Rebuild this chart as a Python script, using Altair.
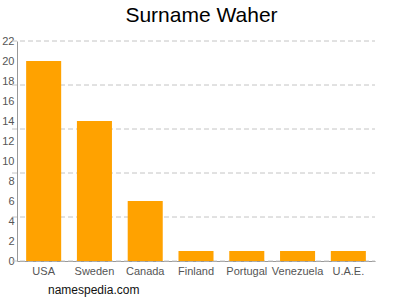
import altair as alt
import pandas as pd

countries = ["USA", "Sweden", "Canada", "Finland", "Portugal", "Venezuela", "U.A.E."]
counts = [20, 14, 6, 1, 1, 1, 1]
y_labels = [0, 2, 4, 6, 8, 10, 12, 14, 16, 18, 20, 22]
grid_values = [0, 4.4, 8.8, 13.2, 17.6, 22]
title_text = ["Surname Waher"]
footer_text = ["namespedia.com"]

FONT = "Liberation Sans"
W, H = 358, 220

df = pd.DataFrame({"country": countries, "count": counts})
grid_df = pd.DataFrame({"g": grid_values})
title_df = pd.DataFrame({"t": title_text})
foot_df = pd.DataFrame({"t": footer_text})

yscale = alt.Scale(domain=[0, 22], nice=False, zero=True)
yaxis = alt.Axis(
    title=None, values=y_labels, grid=False, ticks=False,
    domainColor="#999999", labelColor="#555555", labelFont=FONT,
    labelFontSize=11, labelPadding=3,
)

grid = alt.Chart(grid_df).mark_rule(
    color="#c4c4c4", strokeDash=[5, 3], strokeWidth=1
).encode(
    y=alt.Y("g:Q", scale=yscale, axis=yaxis),
    x=alt.value(-5),
    x2=alt.value(W),
)

bars = alt.Chart(df).mark_bar(color="#ffa200").encode(
    x=alt.X(
        "country:N",
        sort=countries,
        scale=alt.Scale(paddingInner=0.31, paddingOuter=0.18),
        axis=alt.Axis(
            title=None, labelAngle=0, ticks=False, domainColor="#999999",
            labelColor="#555555", labelFont=FONT, labelFontSize=11,
            labelPadding=4,
        ),
    ),
    y=alt.Y("count:Q", scale=yscale, axis=yaxis),
)

title = alt.Chart(title_df).mark_text(
    align="center", baseline="alphabetic", font=FONT, fontSize=21, color="#000000"
).encode(
    text="t:N",
    x=alt.value(184.5),
    y=alt.value(-19),
)

footer = alt.Chart(foot_df).mark_text(
    align="left", baseline="alphabetic", font=FONT, fontSize=12, color="#111111"
).encode(
    text="t:N",
    x=alt.value(31),
    y=alt.value(253),
)

chart = alt.layer(grid, bars, title, footer).properties(
    width=W,
    height=H,
    autosize=alt.AutoSizeParams(type="none"),
    padding={"left": 17, "top": 41, "right": 25, "bottom": 39},
).configure_view(stroke=None)

chart.save("out.html", embed_options={"renderer": "svg", "actions": False})
